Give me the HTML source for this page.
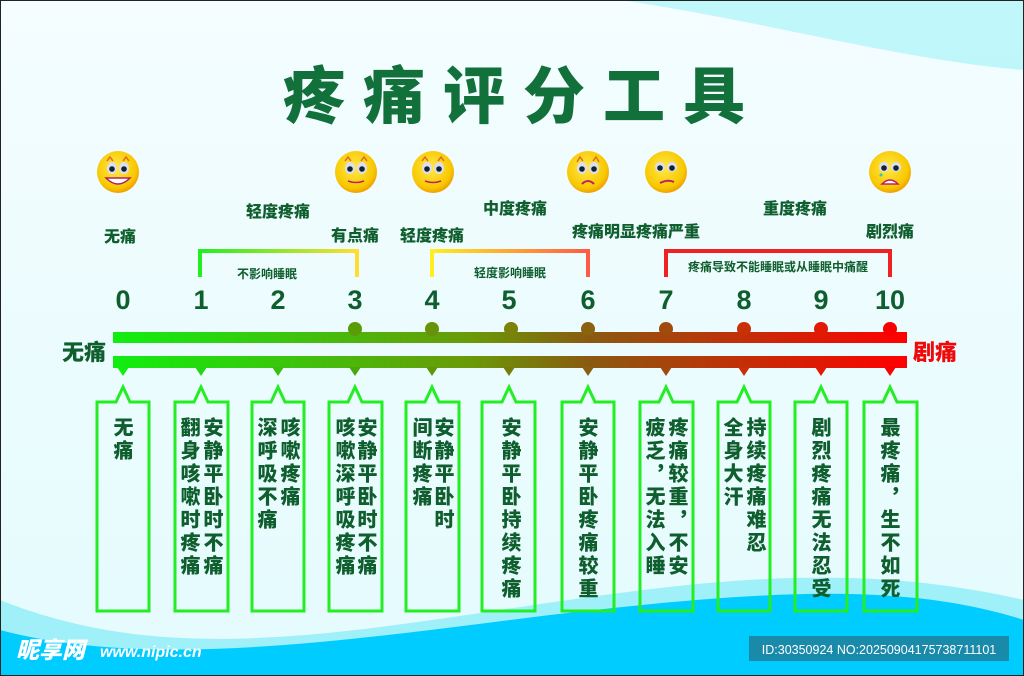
<!DOCTYPE html>
<html><head><meta charset="utf-8"><style>
html,body{margin:0;padding:0}
body{width:1024px;height:676px;overflow:hidden;position:relative;font-family:"Liberation Sans","Noto Sans CJK SC",sans-serif}
.col{position:absolute;writing-mode:vertical-rl;font-weight:900;font-size:20px;letter-spacing:3px;color:#0f5e2e;line-height:22px;font-family:"Noto Sans CJK SC","WenQuanYi Zen Hei",sans-serif;transform:translateX(-50%)}
</style></head><body>
<svg width="1024" height="676" style="position:absolute;left:0;top:0" font-family="Noto Sans CJK SC, WenQuanYi Zen Hei, sans-serif">
<defs>
<linearGradient id="bg" x1="0" y1="0" x2="0" y2="1"><stop offset="0" stop-color="#f4fdff"/><stop offset="1" stop-color="#e4fbfd"/></linearGradient>
<linearGradient id="bar" x1="0" x2="1"><stop offset="0" stop-color="#10ee10"/><stop offset="0.45" stop-color="#6a9a08"/><stop offset="0.6" stop-color="#8a5a10"/><stop offset="1" stop-color="#ff0000"/></linearGradient>
<linearGradient id="b1" x1="0" x2="1"><stop offset="0" stop-color="#22ee22"/><stop offset="1" stop-color="#ffdd33"/></linearGradient>
<linearGradient id="b2" x1="0" x2="1"><stop offset="0" stop-color="#ffee22"/><stop offset="1" stop-color="#ff5a44"/></linearGradient>
<radialGradient id="face" cx="0.45" cy="0.4" r="0.6"><stop offset="0" stop-color="#ffe94a"/><stop offset="0.8" stop-color="#f8c800"/><stop offset="1" stop-color="#f0a000"/></radialGradient>
</defs>
<rect width="1024" height="676" fill="url(#bg)"/>
<path d="M620 0 L1024 0 L1024 70 C900 60 760 20 620 0Z" fill="#a8f4fa" opacity="0.7"/>
<path d="M0 600 C150 660 300 640 500 610 C700 580 850 560 1024 600 L1024 676 L0 676Z" fill="#9ff0f8"/>
<path d="M0 630 C150 670 350 640 550 615 C750 592 900 580 1024 620 L1024 676 L0 676Z" fill="#00ccff"/>
<rect x="0.5" y="0.5" width="1023" height="675" fill="none" stroke="#222" stroke-width="1"/>
<text x="523" y="118" text-anchor="middle" font-size="62" font-weight="900" fill="#12703a" letter-spacing="18">疼痛评分工具</text>
<g font-size="16" font-weight="900" fill="#0f5e2e" text-anchor="middle">
<text x="120" y="242">无痛</text><text x="278" y="217">轻度疼痛</text><text x="355" y="241">有点痛</text><text x="432" y="241">轻度疼痛</text><text x="515" y="214">中度疼痛</text><text x="636" y="237">疼痛明显疼痛严重</text><text x="795" y="214">重度疼痛</text><text x="890" y="237">剧烈痛</text>
</g>
<path d="M200 277 V251 H357 V277" fill="none" stroke="url(#b1)" stroke-width="4"/>
<path d="M432 277 V251 H588 V277" fill="none" stroke="url(#b2)" stroke-width="4"/>
<path d="M666 277 V251 H890 V277" fill="none" stroke="#ee2222" stroke-width="4"/>
<g font-size="12" font-weight="700" fill="#0f5e2e" text-anchor="middle">
<text x="267" y="278">不影响睡眠</text><text x="510" y="277">轻度影响睡眠</text><text x="778" y="271">疼痛导致不能睡眠或从睡眠中痛醒</text>
</g>
<g font-family="Liberation Sans, sans-serif" font-size="27" font-weight="700" fill="#0f5e2e" text-anchor="middle">
<text x="123" y="309">0</text><text x="201" y="309">1</text><text x="278" y="309">2</text><text x="355" y="309">3</text><text x="432" y="309">4</text><text x="509" y="309">5</text><text x="588" y="309">6</text><text x="666" y="309">7</text><text x="744" y="309">8</text><text x="821" y="309">9</text><text x="890" y="309">10</text>
</g>
<rect x="113" y="332" width="794" height="11" fill="url(#bar)"/>
<rect x="113" y="356" width="794" height="12" fill="url(#bar)"/>
<g>
<circle cx="355" cy="329" r="7" fill="#5a9c08"/><circle cx="432" cy="329" r="7" fill="#6a9208"/><circle cx="511" cy="329" r="7" fill="#7a8208"/><circle cx="588" cy="329" r="7" fill="#8a6210"/><circle cx="666" cy="329" r="7" fill="#a04a0c"/><circle cx="744" cy="329" r="7" fill="#c83008"/><circle cx="821" cy="329" r="7" fill="#e01a04"/><circle cx="890" cy="329" r="7" fill="#f80000"/>
<path d="M117 367 l6 9 l6 -9z" fill="#12ee12"/><path d="M195 367 l6 9 l6 -9z" fill="#22d812"/><path d="M272 367 l6 9 l6 -9z" fill="#38c010"/><path d="M349 367 l6 9 l6 -9z" fill="#4aa80c"/><path d="M426 367 l6 9 l6 -9z" fill="#609808"/><path d="M503 367 l6 9 l6 -9z" fill="#787c08"/><path d="M582 367 l6 9 l6 -9z" fill="#8a6010"/><path d="M660 367 l6 9 l6 -9z" fill="#a04a0c"/><path d="M738 367 l6 9 l6 -9z" fill="#c83008"/><path d="M815 367 l6 9 l6 -9z" fill="#e01a04"/><path d="M884 367 l6 9 l6 -9z" fill="#f80000"/>
</g>
<g font-size="22" font-weight="900">
<text x="62" y="360" fill="#0f5e2e">无痛</text><text x="913" y="360" fill="#ee0a0a">剧痛</text>
</g>
<g fill="none" stroke="#22ee22" stroke-width="3">
<path d="M97 402 H116 L123 387 L130 402 H149 V611 H97Z"/>
<path d="M175 402 H194 L201 387 L208 402 H228 V611 H175Z"/>
<path d="M252 402 H271 L278 387 L285 402 H304 V611 H252Z"/>
<path d="M329 402 H348 L355 387 L362 402 H382 V611 H329Z"/>
<path d="M406 402 H425 L432 387 L439 402 H459 V611 H406Z"/>
<path d="M482 402 H502 L509 387 L516 402 H535 V611 H482Z"/>
<path d="M562 402 H581 L588 387 L595 402 H614 V611 H562Z"/>
<path d="M640 402 H659 L666 387 L673 402 H693 V611 H640Z"/>
<path d="M718 402 H737 L744 387 L751 402 H770 V611 H718Z"/>
<path d="M795 402 H814 L821 387 L828 402 H847 V611 H795Z"/>
<path d="M864 402 H883 L890 387 L897 402 H917 V611 H864Z"/>
</g>
<g id="faces">
<g transform="translate(118,172)"><circle r="21" fill="url(#face)"/><path d="M-11 -11 l3 -4 l3 4 M5 -11 l3 -4 l3 4" fill="none" stroke="#e07020" stroke-width="1.5"/><ellipse cx="-6" cy="-4" rx="5" ry="6" fill="#dde"/><ellipse cx="6" cy="-4" rx="5" ry="6" fill="#dde"/><circle cx="-6" cy="-3" r="2.8" fill="#123"/><circle cx="6" cy="-3" r="2.8" fill="#123"/><path d="M-12 6 Q0 18 12 6Z" fill="#fff" stroke="#b02060" stroke-width="1.5"/></g>
<g transform="translate(356,172)"><circle r="21" fill="url(#face)"/><path d="M-11 -11 l3 -4 l3 4 M5 -11 l3 -4 l3 4" fill="none" stroke="#e07020" stroke-width="1.5"/><ellipse cx="-6" cy="-4" rx="5" ry="6" fill="#dde"/><ellipse cx="6" cy="-4" rx="5" ry="6" fill="#dde"/><circle cx="-6" cy="-3" r="2.8" fill="#123"/><circle cx="6" cy="-3" r="2.8" fill="#123"/><path d="M-8 9 Q0 12 8 9" fill="none" stroke="#c02060" stroke-width="1.5"/></g>
<g transform="translate(433,172)"><circle r="21" fill="url(#face)"/><path d="M-11 -11 l3 -4 l3 4 M5 -11 l3 -4 l3 4" fill="none" stroke="#e07020" stroke-width="1.5"/><ellipse cx="-6" cy="-4" rx="5" ry="6" fill="#dde"/><ellipse cx="6" cy="-4" rx="5" ry="6" fill="#dde"/><circle cx="-6" cy="-3" r="2.8" fill="#123"/><circle cx="6" cy="-3" r="2.8" fill="#123"/><path d="M-8 9 Q0 12 8 9" fill="none" stroke="#c02060" stroke-width="1.5"/></g>
<g transform="translate(588,172)"><circle r="21" fill="url(#face)"/><path d="M-11 -10 l3 -5 l3 4 M5 -11 l3 -4 l3 5" fill="none" stroke="#e07020" stroke-width="1.5"/><ellipse cx="-6" cy="-4" rx="5" ry="6" fill="#dde"/><ellipse cx="6" cy="-4" rx="5" ry="6" fill="#dde"/><circle cx="-6" cy="-3" r="2.8" fill="#123"/><circle cx="6" cy="-3" r="2.8" fill="#123"/><path d="M-6 12 Q0 6 6 12" fill="none" stroke="#c02060" stroke-width="2"/></g>
<g transform="translate(666,172)"><circle r="21" fill="url(#face)"/><ellipse cx="-6" cy="-5" rx="5" ry="5" fill="#dde"/><ellipse cx="6" cy="-5" rx="5" ry="5" fill="#dde"/><circle cx="-6" cy="-4" r="2.8" fill="#123"/><circle cx="6" cy="-4" r="2.8" fill="#123"/><path d="M-6 11 Q2 7 8 10" fill="none" stroke="#c02060" stroke-width="2"/></g>
<g transform="translate(890,172)"><circle r="21" fill="url(#face)"/><ellipse cx="-6" cy="-5" rx="5" ry="5" fill="#dde"/><ellipse cx="6" cy="-5" rx="5" ry="5" fill="#dde"/><circle cx="-6" cy="-4" r="2.8" fill="#123"/><circle cx="6" cy="-4" r="2.8" fill="#123"/><path d="M-8 12 Q0 4 8 12Z" fill="#fff" stroke="#c02060" stroke-width="1.5"/><circle cx="-9" cy="3" r="1.5" fill="#2cc"/></g>
</g>
<text x="16" y="658" font-size="23" font-weight="900" fill="#fff" font-style="italic">昵享网</text>
<text x="100" y="657" font-family="Liberation Sans, sans-serif" font-size="16" font-weight="700" font-style="italic" fill="#fff">www.nipic.cn</text>
<rect x="749" y="636" width="260" height="25" fill="#1a8aaa"/>
<text x="879" y="654" text-anchor="middle" font-family="Liberation Sans, sans-serif" font-size="12.5" fill="#fff">ID:30350924 NO:20250904175738711101</text>
</svg>
<div class="col" style="left:123px;top:417px">无痛</div>
<div class="col" style="left:190px;top:417px">翻身咳嗽时疼痛</div>
<div class="col" style="left:213px;top:417px">安静平卧时不痛</div>
<div class="col" style="left:267px;top:417px">深呼吸不痛</div>
<div class="col" style="left:290px;top:417px">咳嗽疼痛</div>
<div class="col" style="left:345px;top:417px">咳嗽深呼吸疼痛</div>
<div class="col" style="left:367px;top:417px">安静平卧时不痛</div>
<div class="col" style="left:422px;top:417px">间断疼痛</div>
<div class="col" style="left:444px;top:417px">安静平卧时</div>
<div class="col" style="left:511px;top:417px">安静平卧持续疼痛</div>
<div class="col" style="left:588px;top:417px">安静平卧疼痛较重</div>
<div class="col" style="left:655px;top:417px">疲乏，无法入睡</div>
<div class="col" style="left:678px;top:417px">疼痛较重，不安</div>
<div class="col" style="left:733px;top:417px">全身大汗</div>
<div class="col" style="left:756px;top:417px">持续疼痛难忍</div>
<div class="col" style="left:821px;top:417px">剧烈疼痛无法忍受</div>
<div class="col" style="left:890px;top:417px">最疼痛，生不如死</div>
</body></html>
